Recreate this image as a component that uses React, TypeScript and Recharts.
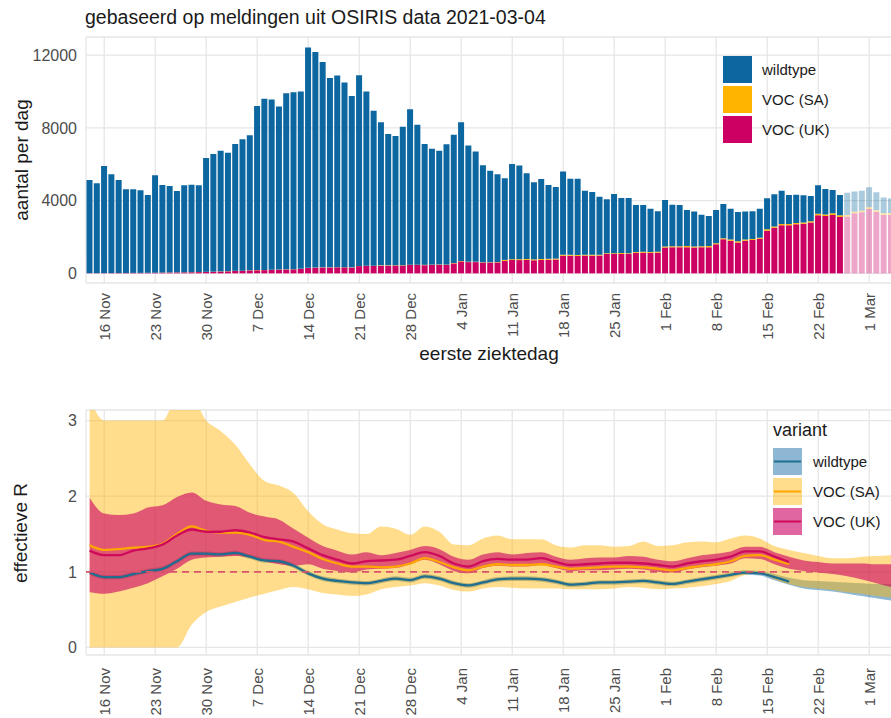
import React from 'react';
import { ComposedChart, Bar, Cell, XAxis, YAxis, CartesianGrid, Area, Line, ReferenceLine, Legend } from 'recharts';

const FONT = "'Liberation Sans', Arial, Helvetica, sans-serif";

// ---------- categories ----------
const dates: string[] = [
  '14 Nov','15 Nov','16 Nov','17 Nov','18 Nov','19 Nov','20 Nov','21 Nov','22 Nov','23 Nov','24 Nov','25 Nov','26 Nov','27 Nov','28 Nov','29 Nov','30 Nov',
  '1 Dec','2 Dec','3 Dec','4 Dec','5 Dec','6 Dec','7 Dec','8 Dec','9 Dec','10 Dec','11 Dec','12 Dec','13 Dec','14 Dec','15 Dec','16 Dec','17 Dec','18 Dec','19 Dec','20 Dec','21 Dec','22 Dec','23 Dec','24 Dec','25 Dec','26 Dec','27 Dec','28 Dec','29 Dec','30 Dec','31 Dec',
  '1 Jan','2 Jan','3 Jan','4 Jan','5 Jan','6 Jan','7 Jan','8 Jan','9 Jan','10 Jan','11 Jan','12 Jan','13 Jan','14 Jan','15 Jan','16 Jan','17 Jan','18 Jan','19 Jan','20 Jan','21 Jan','22 Jan','23 Jan','24 Jan','25 Jan','26 Jan','27 Jan','28 Jan','29 Jan','30 Jan','31 Jan',
  '1 Feb','2 Feb','3 Feb','4 Feb','5 Feb','6 Feb','7 Feb','8 Feb','9 Feb','10 Feb','11 Feb','12 Feb','13 Feb','14 Feb','15 Feb','16 Feb','17 Feb','18 Feb','19 Feb','20 Feb','21 Feb','22 Feb','23 Feb','24 Feb','25 Feb','26 Feb','27 Feb','28 Feb',
  '1 Mar','2 Mar','3 Mar','4 Mar',
];

const tickLabels: string[] = ['16 Nov','23 Nov','30 Nov','7 Dec','14 Dec','21 Dec','28 Dec','4 Jan','11 Jan','18 Jan','25 Jan','1 Feb','8 Feb','15 Feb','22 Feb','1 Mar'];
const tickIdx: number[] = [2, 9, 16, 23, 30, 37, 44, 51, 58, 65, 72, 79, 86, 93, 100, 107];
const firstIncompleteDate = '26 Feb';

// ---------- top chart: cases per day ----------
const wildtypeCases: number[] = [
  5120, 4940, 5885, 5435, 5120, 4600, 4595, 4545, 4280, 5365,
  4815, 4760, 4475, 4790, 4815, 4775, 6265, 6475, 6640, 6520,
  6980, 7230, 7430, 9030, 9410, 9360, 8970, 9690, 9730, 9750,
  12110, 11850, 11290, 10410, 10540, 10160, 9430, 10490, 9580, 8520,
  7870, 7230, 7110, 7620, 8550, 7700, 6650, 6380, 6260, 6620,
  7050, 7630, 6390, 6060, 5340, 5040, 4830, 4490, 5240, 5150,
  4710, 4240, 4400, 4060, 3940, 4580, 4190, 4200, 3520, 3460,
  3190, 2960, 3260, 3030, 3040, 2580, 2570, 2380, 2220, 2560,
  2290, 2270, 1990, 1920, 1740, 1660, 1830, 1890, 1700, 1620,
  1540, 1520, 1600, 1710, 1770, 1840, 1600, 1560, 1490, 1390,
  1570, 1400, 1290, 1120, 1230, 1110, 1100, 1100, 990, 870,
  830,
];
const saCases: number[] = [
  0, 0, 0, 0, 0, 0, 0, 0, 0, 0,
  5, 5, 5, 5, 5, 5, 5, 5, 10, 10,
  10, 10, 10, 10, 10, 10, 10, 10, 10, 10,
  10, 10, 10, 10, 10, 10, 10, 10, 10, 10,
  20, 20, 20, 20, 20, 20, 20, 20, 20, 20,
  20, 20, 20, 20, 20, 20, 20, 50, 50, 50,
  50, 50, 50, 50, 50, 50, 50, 50, 50, 50,
  50, 50, 50, 50, 50, 50, 50, 50, 50, 60,
  60, 60, 60, 60, 60, 60, 60, 60, 60, 60,
  60, 60, 60, 70, 70, 70, 70, 70, 70, 70,
  90, 90, 90, 90, 90, 90, 90, 90, 90, 90,
  90,
];
const ukCases: number[] = [
  10, 10, 15, 15, 20, 20, 25, 25, 30, 35,
  40, 45, 50, 55, 60, 70, 80, 90, 100, 110,
  130, 140, 160, 170, 180, 190, 200, 210, 220, 240,
  300, 310, 320, 320, 330, 330, 320, 400, 410, 410,
  420, 420, 430, 430, 460, 460, 450, 460, 470, 460,
  550, 660, 620, 620, 590, 590, 600, 690, 730, 730,
  740, 720, 740, 750, 760, 970, 970, 960, 980, 970,
  980, 1060, 1060, 1070, 1060, 1130, 1140, 1130, 1140, 1420,
  1430, 1430, 1440, 1420, 1430, 1440, 1600, 1870, 1800, 1700,
  1800, 1830, 1900, 2350, 2510, 2640, 2640, 2700, 2730, 2800,
  3190, 3150, 3210, 3100, 3120, 3300, 3360, 3540, 3380, 3210,
  3210,
];

// ---------- bottom chart: effective R (every second day) ----------
const rDay: number[] = [
  0, 2, 4, 6, 8, 10, 12, 14, 16, 18, 20, 22, 24, 26, 28, 30, 32, 34, 36, 38,
  40, 42, 44, 46, 48, 50, 52, 54, 56, 58, 60, 62, 64, 66, 68, 70, 72, 74, 76, 78,
  80, 82, 84, 86, 88, 90, 92, 94, 96, 98, 100, 102, 104, 106, 108, 110,
];
const wildtypeR: number[] = [
  0.99, 0.93, 0.93, 0.97, 1.01, 1.04, 1.14, 1.24, 1.24, 1.23,
  1.25, 1.2, 1.15, 1.14, 1.08, 0.98, 0.91, 0.88, 0.86, 0.85,
  0.88, 0.91, 0.89, 0.94, 0.91, 0.85, 0.82, 0.86, 0.9, 0.91,
  0.91, 0.9, 0.87, 0.83, 0.84, 0.86, 0.86, 0.87, 0.88, 0.86,
  0.84, 0.87, 0.9, 0.93, 0.96, 0.99, 0.98, 0.93, 0.87,
];
const wildtypeLo: number[] = [
  0.96, 0.9, 0.9, 0.94, 0.98, 1.01, 1.11, 1.21, 1.21, 1.2,
  1.22, 1.17, 1.12, 1.11, 1.05, 0.95, 0.88, 0.85, 0.83, 0.82,
  0.85, 0.88, 0.86, 0.91, 0.88, 0.82, 0.79, 0.83, 0.87, 0.88,
  0.88, 0.87, 0.84, 0.8, 0.81, 0.83, 0.83, 0.84, 0.85, 0.83,
  0.81, 0.84, 0.87, 0.9, 0.93, 0.96, 0.95, 0.89, 0.83, 0.78,
  0.76, 0.74, 0.71, 0.68, 0.65, 0.62,
];
const wildtypeHi: number[] = [
  1.02, 0.96, 0.96, 1.0, 1.04, 1.07, 1.17, 1.27, 1.27, 1.26,
  1.28, 1.23, 1.18, 1.17, 1.11, 1.01, 0.94, 0.91, 0.89, 0.88,
  0.91, 0.94, 0.92, 0.97, 0.94, 0.88, 0.85, 0.89, 0.93, 0.94,
  0.94, 0.93, 0.9, 0.86, 0.87, 0.89, 0.89, 0.9, 0.91, 0.89,
  0.87, 0.9, 0.93, 0.96, 0.99, 1.02, 1.01, 0.97, 0.92, 0.89,
  0.88, 0.87, 0.86, 0.85, 0.84, 0.84,
];
const saR: number[] = [
  1.35, 1.29, 1.3, 1.32, 1.33, 1.37, 1.5, 1.6, 1.54, 1.52,
  1.52, 1.49, 1.42, 1.4, 1.33, 1.26, 1.17, 1.11, 1.07, 1.07,
  1.06, 1.07, 1.11, 1.18, 1.13, 1.06, 1.02, 1.07, 1.1, 1.09,
  1.09, 1.1, 1.07, 1.04, 1.05, 1.06, 1.07, 1.07, 1.06, 1.04,
  1.02, 1.05, 1.08, 1.1, 1.14, 1.21, 1.22, 1.16, 1.1,
];
const saLo: number[] = [
  0, 0, 0, 0, 0, 0, 0, 0.3, 0.47, 0.54,
  0.6, 0.66, 0.71, 0.76, 0.8, 0.77, 0.72, 0.7, 0.68, 0.7,
  0.77, 0.8, 0.82, 0.85, 0.82, 0.76, 0.74, 0.78, 0.8, 0.79,
  0.78, 0.78, 0.78, 0.77, 0.77, 0.77, 0.78, 0.8, 0.79, 0.77,
  0.78, 0.79, 0.81, 0.84, 0.88, 0.96, 0.98, 0.9, 0.84, 0.8,
  0.78, 0.76, 0.73, 0.71, 0.68, 0.66,
];
const saHi: number[] = [
  3.3, 3.0, 3.0, 3.0, 3.0, 3.0, 3.3, 3.3, 3.0, 2.86,
  2.68, 2.42, 2.2, 2.14, 2.04, 1.8, 1.63, 1.56, 1.51, 1.5,
  1.6, 1.57, 1.49, 1.6, 1.53, 1.36, 1.35, 1.44, 1.48, 1.43,
  1.43, 1.43, 1.35, 1.32, 1.35, 1.35, 1.33, 1.34, 1.4, 1.34,
  1.35, 1.39, 1.4, 1.39, 1.44, 1.48, 1.44, 1.34, 1.29, 1.25,
  1.21, 1.18, 1.18, 1.2, 1.21, 1.22,
];
const ukR: number[] = [
  1.28, 1.22, 1.22, 1.28, 1.31, 1.36, 1.48, 1.56, 1.53, 1.53,
  1.55, 1.52, 1.46, 1.43, 1.4, 1.31, 1.22, 1.16, 1.11, 1.14,
  1.15, 1.16, 1.21, 1.26, 1.21, 1.11, 1.07, 1.14, 1.17, 1.16,
  1.16, 1.18, 1.13, 1.09, 1.1, 1.11, 1.12, 1.12, 1.11, 1.09,
  1.07, 1.11, 1.14, 1.16, 1.2, 1.27, 1.27, 1.2, 1.13,
];
const ukLo: number[] = [
  0.73, 0.71, 0.74, 0.79, 0.85, 0.94, 1.04, 1.16, 1.19, 1.2,
  1.21, 1.19, 1.14, 1.1, 1.08, 1.1, 1.04, 1.01, 0.99, 1.03,
  1.04, 1.05, 1.1, 1.16, 1.1, 1.01, 0.98, 1.05, 1.08, 1.07,
  1.07, 1.09, 1.05, 1.01, 1.02, 1.02, 1.03, 1.04, 1.03, 1.0,
  0.99, 1.03, 1.06, 1.08, 1.11, 1.18, 1.17, 1.1, 1.04, 1.01,
  0.99, 0.97, 0.94, 0.9, 0.85, 0.8,
];
const ukHi: number[] = [
  1.98, 1.77, 1.75, 1.77, 1.85, 1.88, 1.99, 2.05, 1.94, 1.89,
  1.87, 1.78, 1.73, 1.69, 1.57, 1.45, 1.34, 1.28, 1.23, 1.26,
  1.22, 1.25, 1.29, 1.34, 1.3, 1.2, 1.16, 1.23, 1.26, 1.23,
  1.25, 1.26, 1.2, 1.16, 1.18, 1.19, 1.19, 1.21, 1.2, 1.16,
  1.14, 1.18, 1.22, 1.24, 1.27, 1.33, 1.33, 1.26, 1.2, 1.15,
  1.13, 1.11, 1.11, 1.11, 1.1, 1.1,
];

// ---------- colours ----------
const C_WILD = '#0C66A0';
const C_SA = '#FFB400';
const C_UK = '#CC0063';
const C_WILD_LINE = '#1F6E8F';
const C_SA_LINE = '#FFA600';
const C_UK_LINE = '#CF0A5B';
const GRID = '#E6E6E6';
const TICK = '#4D4D4D';

// ---------- tables ----------
const fadeFrom = dates.indexOf(firstIncompleteDate);
const barRows = dates.map((d, i) => ({ date: d, wildtype: wildtypeCases[i], sa: saCases[i], uk: ukCases[i] }));
const rRows = rDay.map((d, k) => ({
  day: d,
  wBand: [wildtypeLo[k], wildtypeHi[k]],
  saBand: [saLo[k], saHi[k]],
  ukBand: [ukLo[k], ukHi[k]],
  wR: wildtypeR[k],
  saR: saR[k],
  ukR: ukR[k],
}));

const RotTick = (props: any) => {
  const { x, y, payload } = props;
  const v = payload.value;
  const label = typeof v === 'number' ? tickLabels[tickIdx.indexOf(v)] : v;
  return (
    <text x={x} y={y} dy="0.36em" textAnchor="end" transform={`rotate(-90 ${x} ${y})`}
      fontSize={15} fill={TICK} fontFamily={FONT}>{label}</text>
  );
};

const TopLegend = () => (
  <svg width={170} height={92} style={{ display: 'block', overflow: 'visible' }}>
    {[
      { c: C_WILD, t: 'wildtype' },
      { c: C_SA, t: 'VOC (SA)' },
      { c: C_UK, t: 'VOC (UK)' },
    ].map((e, i) => (
      <g key={e.t}>
        <rect x={0} y={i * 30} width={29} height={27} fill={e.c} />
        <text x={39} y={i * 30 + 13.5} dy="0.36em" fontSize={15} fill="#1a1a1a" fontFamily={FONT}>{e.t}</text>
      </g>
    ))}
  </svg>
);

const BottomLegend = () => (
  <svg width={120} height={118} style={{ display: 'block', overflow: 'visible' }}>
    <text x={0} y={14} fontSize={18} fill="#1a1a1a" fontFamily={FONT}>variant</text>
    {[
      { f: C_WILD, o: 0.47, l: C_WILD_LINE, t: 'wildtype' },
      { f: C_SA, o: 0.45, l: C_SA_LINE, t: 'VOC (SA)' },
      { f: C_UK, o: 0.6, l: C_UK_LINE, t: 'VOC (UK)' },
    ].map((e, i) => (
      <g key={e.t}>
        <rect x={0} y={26 + i * 30} width={29} height={27} fill={e.f} fillOpacity={e.o} />
        <line x1={1} x2={28} y1={39.5 + i * 30} y2={39.5 + i * 30} stroke={e.l} strokeWidth={2} />
        <text x={40} y={39.5 + i * 30} dy="0.36em" fontSize={15} fill="#1a1a1a" fontFamily={FONT}>{e.t}</text>
      </g>
    ))}
  </svg>
);

export default function App() {
  return (
    <div style={{ position: 'absolute', left: 0, top: 0, width: 891, height: 718, overflow: 'hidden', background: '#fff', fontFamily: FONT }}>
      <div style={{ position: 'absolute', left: 0, top: 0 }}>
        <ComposedChart width={900} height={380} data={barRows}
          margin={{ top: 37, right: 5.3, bottom: 37, left: 26 }} barCategoryGap="7%">
          <CartesianGrid stroke={GRID} strokeWidth={1.3} />
          <XAxis dataKey="date" ticks={tickLabels} interval={0} axisLine={false} tickLine={false}
            height={60} tickSize={0} tickMargin={10} tick={<RotTick />} />
          <YAxis domain={[-530, 13000]} ticks={[0, 4000, 8000, 12000]} allowDataOverflow width={60}
            axisLine={false} tickLine={false} tickSize={0} tickMargin={9}
            tick={{ fontSize: 16, fill: TICK, fontFamily: FONT }} />
          <Bar dataKey="uk" stackId="s" fill={C_UK} isAnimationActive={false}>
            {barRows.map((r, i) => <Cell key={r.date} fillOpacity={i >= fadeFrom ? 0.35 : 1} />)}
          </Bar>
          <Bar dataKey="sa" stackId="s" fill={C_SA} isAnimationActive={false}>
            {barRows.map((r, i) => <Cell key={r.date} fillOpacity={i >= fadeFrom ? 0.35 : 1} />)}
          </Bar>
          <Bar dataKey="wildtype" stackId="s" fill={C_WILD} isAnimationActive={false}>
            {barRows.map((r, i) => <Cell key={r.date} fillOpacity={i >= fadeFrom ? 0.35 : 1} />)}
          </Bar>
          <Legend layout="vertical" align="center" verticalAlign="middle" content={<TopLegend />}
            wrapperStyle={{ left: 723, top: 56, width: 170, height: 92 }} />
        </ComposedChart>
      </div>

      <div style={{ position: 'absolute', left: 0, top: 380 }}>
        <ComposedChart width={900} height={338} data={rRows}
          margin={{ top: 30, right: 5.3, bottom: 13, left: 26 }}>
          <CartesianGrid stroke={GRID} strokeWidth={1.3} />
          <XAxis type="number" dataKey="day" domain={[-0.5, 110.5]} ticks={tickIdx} interval={0}
            axisLine={false} tickLine={false} height={50} tickSize={0} tickMargin={13} tick={<RotTick />} />
          <YAxis domain={[-0.1, 3.14]} ticks={[0, 1, 2, 3]} allowDataOverflow width={60}
            axisLine={false} tickLine={false} tickSize={0} tickMargin={9}
            tick={{ fontSize: 16, fill: TICK, fontFamily: FONT }} />
          <Area dataKey="wBand" type="monotone" stroke="none" fill={C_WILD} fillOpacity={0.47} isAnimationActive={false} />
          <Area dataKey="saBand" type="monotone" stroke="none" fill={C_SA} fillOpacity={0.45} isAnimationActive={false} />
          <Area dataKey="ukBand" type="monotone" stroke="none" fill={C_UK} fillOpacity={0.6} isAnimationActive={false} />
          <Line dataKey="wR" type="monotone" stroke={C_WILD_LINE} strokeWidth={2.3} dot={false} isAnimationActive={false} />
          <Line dataKey="saR" type="monotone" stroke={C_SA_LINE} strokeWidth={2.3} dot={false} isAnimationActive={false} />
          <Line dataKey="ukR" type="monotone" stroke={C_UK_LINE} strokeWidth={2.3} dot={false} isAnimationActive={false} />
          <ReferenceLine y={1} stroke="#D9536C" strokeWidth={1.8} strokeDasharray="7 5" zIndex={1500} />
          <Legend layout="vertical" align="center" verticalAlign="middle" content={<BottomLegend />}
            wrapperStyle={{ left: 773, top: 42, width: 120, height: 118 }} />
        </ComposedChart>
      </div>

      <svg width={891} height={718} style={{ position: 'absolute', left: 0, top: 0, pointerEvents: 'none' }}>
        <text x={85} y={24} fontSize={19.5} fill="#1a1a1a" fontFamily={FONT}>gebaseerd op meldingen uit OSIRIS data 2021-03-04</text>
        <text x={21} y={160} dy="0.36em" textAnchor="middle" transform="rotate(-90 21 160)" fontSize={19} fill="#1a1a1a" fontFamily={FONT}>aantal per dag</text>
        <text x={489} y={353} dy="0.36em" textAnchor="middle" fontSize={19} fill="#1a1a1a" fontFamily={FONT}>eerste ziektedag</text>
        <text x={20} y={533} dy="0.36em" textAnchor="middle" transform="rotate(-90 20 533)" fontSize={19} fill="#1a1a1a" fontFamily={FONT}>effectieve R</text>
      </svg>
    </div>
  );
}
